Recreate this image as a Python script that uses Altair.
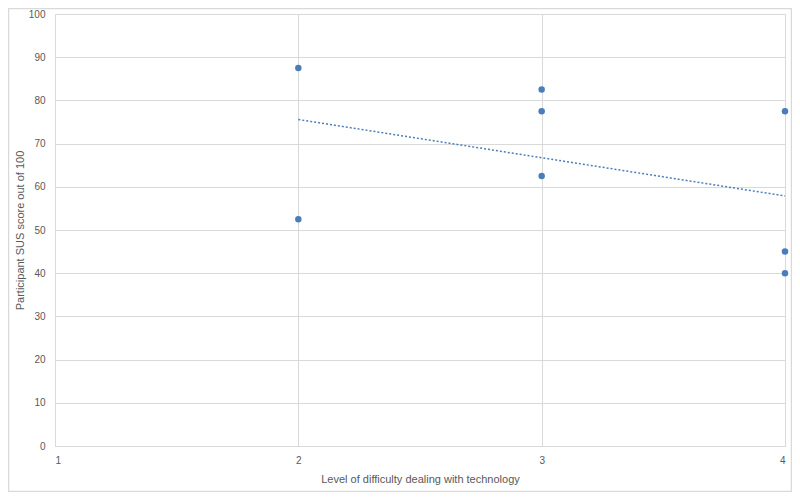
import altair as alt
import pandas as pd

difficulty = [2, 2, 3, 3, 3, 4, 4, 4]
sus_score = [87.5, 52.5, 82.5, 77.5, 62.5, 77.5, 45, 40]
x_ticks = [1, 2, 3, 4]
y_ticks = [0, 10, 20, 30, 40, 50, 60, 70, 80, 90, 100]

df = pd.DataFrame({"difficulty": difficulty, "sus": sus_score})

W, H = 730, 432
blue = "#4a7ebb"
grid = "#d9d9d9"
txt = "#595959"

xscale = alt.Scale(domain=[1, 4], nice=False, zero=False)
yscale = alt.Scale(domain=[0, 100], nice=False)

base = alt.Chart(df)

points = base.mark_circle(size=42, color=blue, opacity=1).encode(
    x=alt.X("difficulty:Q", scale=xscale,
            axis=alt.Axis(title="Level of difficulty dealing with technology", values=x_ticks,
                          format="d", grid=True, gridColor=grid, domain=False, ticks=False,
                          labelColor=txt, labelFontSize=10, labelPadding=9,
                          titleColor=txt, titleFontSize=11, titleFontWeight="normal",
                          titlePadding=8, labelFont="Liberation Sans", titleFont="Liberation Sans")),
    y=alt.Y("sus:Q", scale=yscale,
            axis=alt.Axis(title="Participant SUS score out of 100", values=y_ticks,
                          grid=True, gridColor=grid, domain=False, ticks=False,
                          labelColor=txt, labelFontSize=10, labelPadding=10,
                          titleColor=txt, titleFontSize=11, titleFontWeight="normal",
                          titlePadding=3, labelFont="Liberation Sans", titleFont="Liberation Sans")),
)

trend = base.transform_regression("difficulty", "sus", extent=[2, 4]).mark_line(
    color=blue, strokeWidth=1.5, strokeDash=[2, 2]
).encode(
    x=alt.X("difficulty:Q", scale=xscale),
    y=alt.Y("sus:Q", scale=yscale),
)

border = alt.Chart(pd.DataFrame({"a": [0]})).mark_rect(
    fill=None, stroke=grid, strokeWidth=1.5
).encode(
    x=alt.value(-46.5), x2=alt.value(W + 6.5),
    y=alt.value(-5.5), y2=alt.value(H + 45.5),
)

chart = alt.layer(trend, points, border).properties(
    width=W, height=H,
    autosize=alt.AutoSizeParams(type="none"),
    padding={"left": 47, "top": 6, "right": 7, "bottom": 46},
).configure_view(stroke=None).configure(background="white")

chart.save("out.html", embed_options={"renderer": "svg", "actions": False})
